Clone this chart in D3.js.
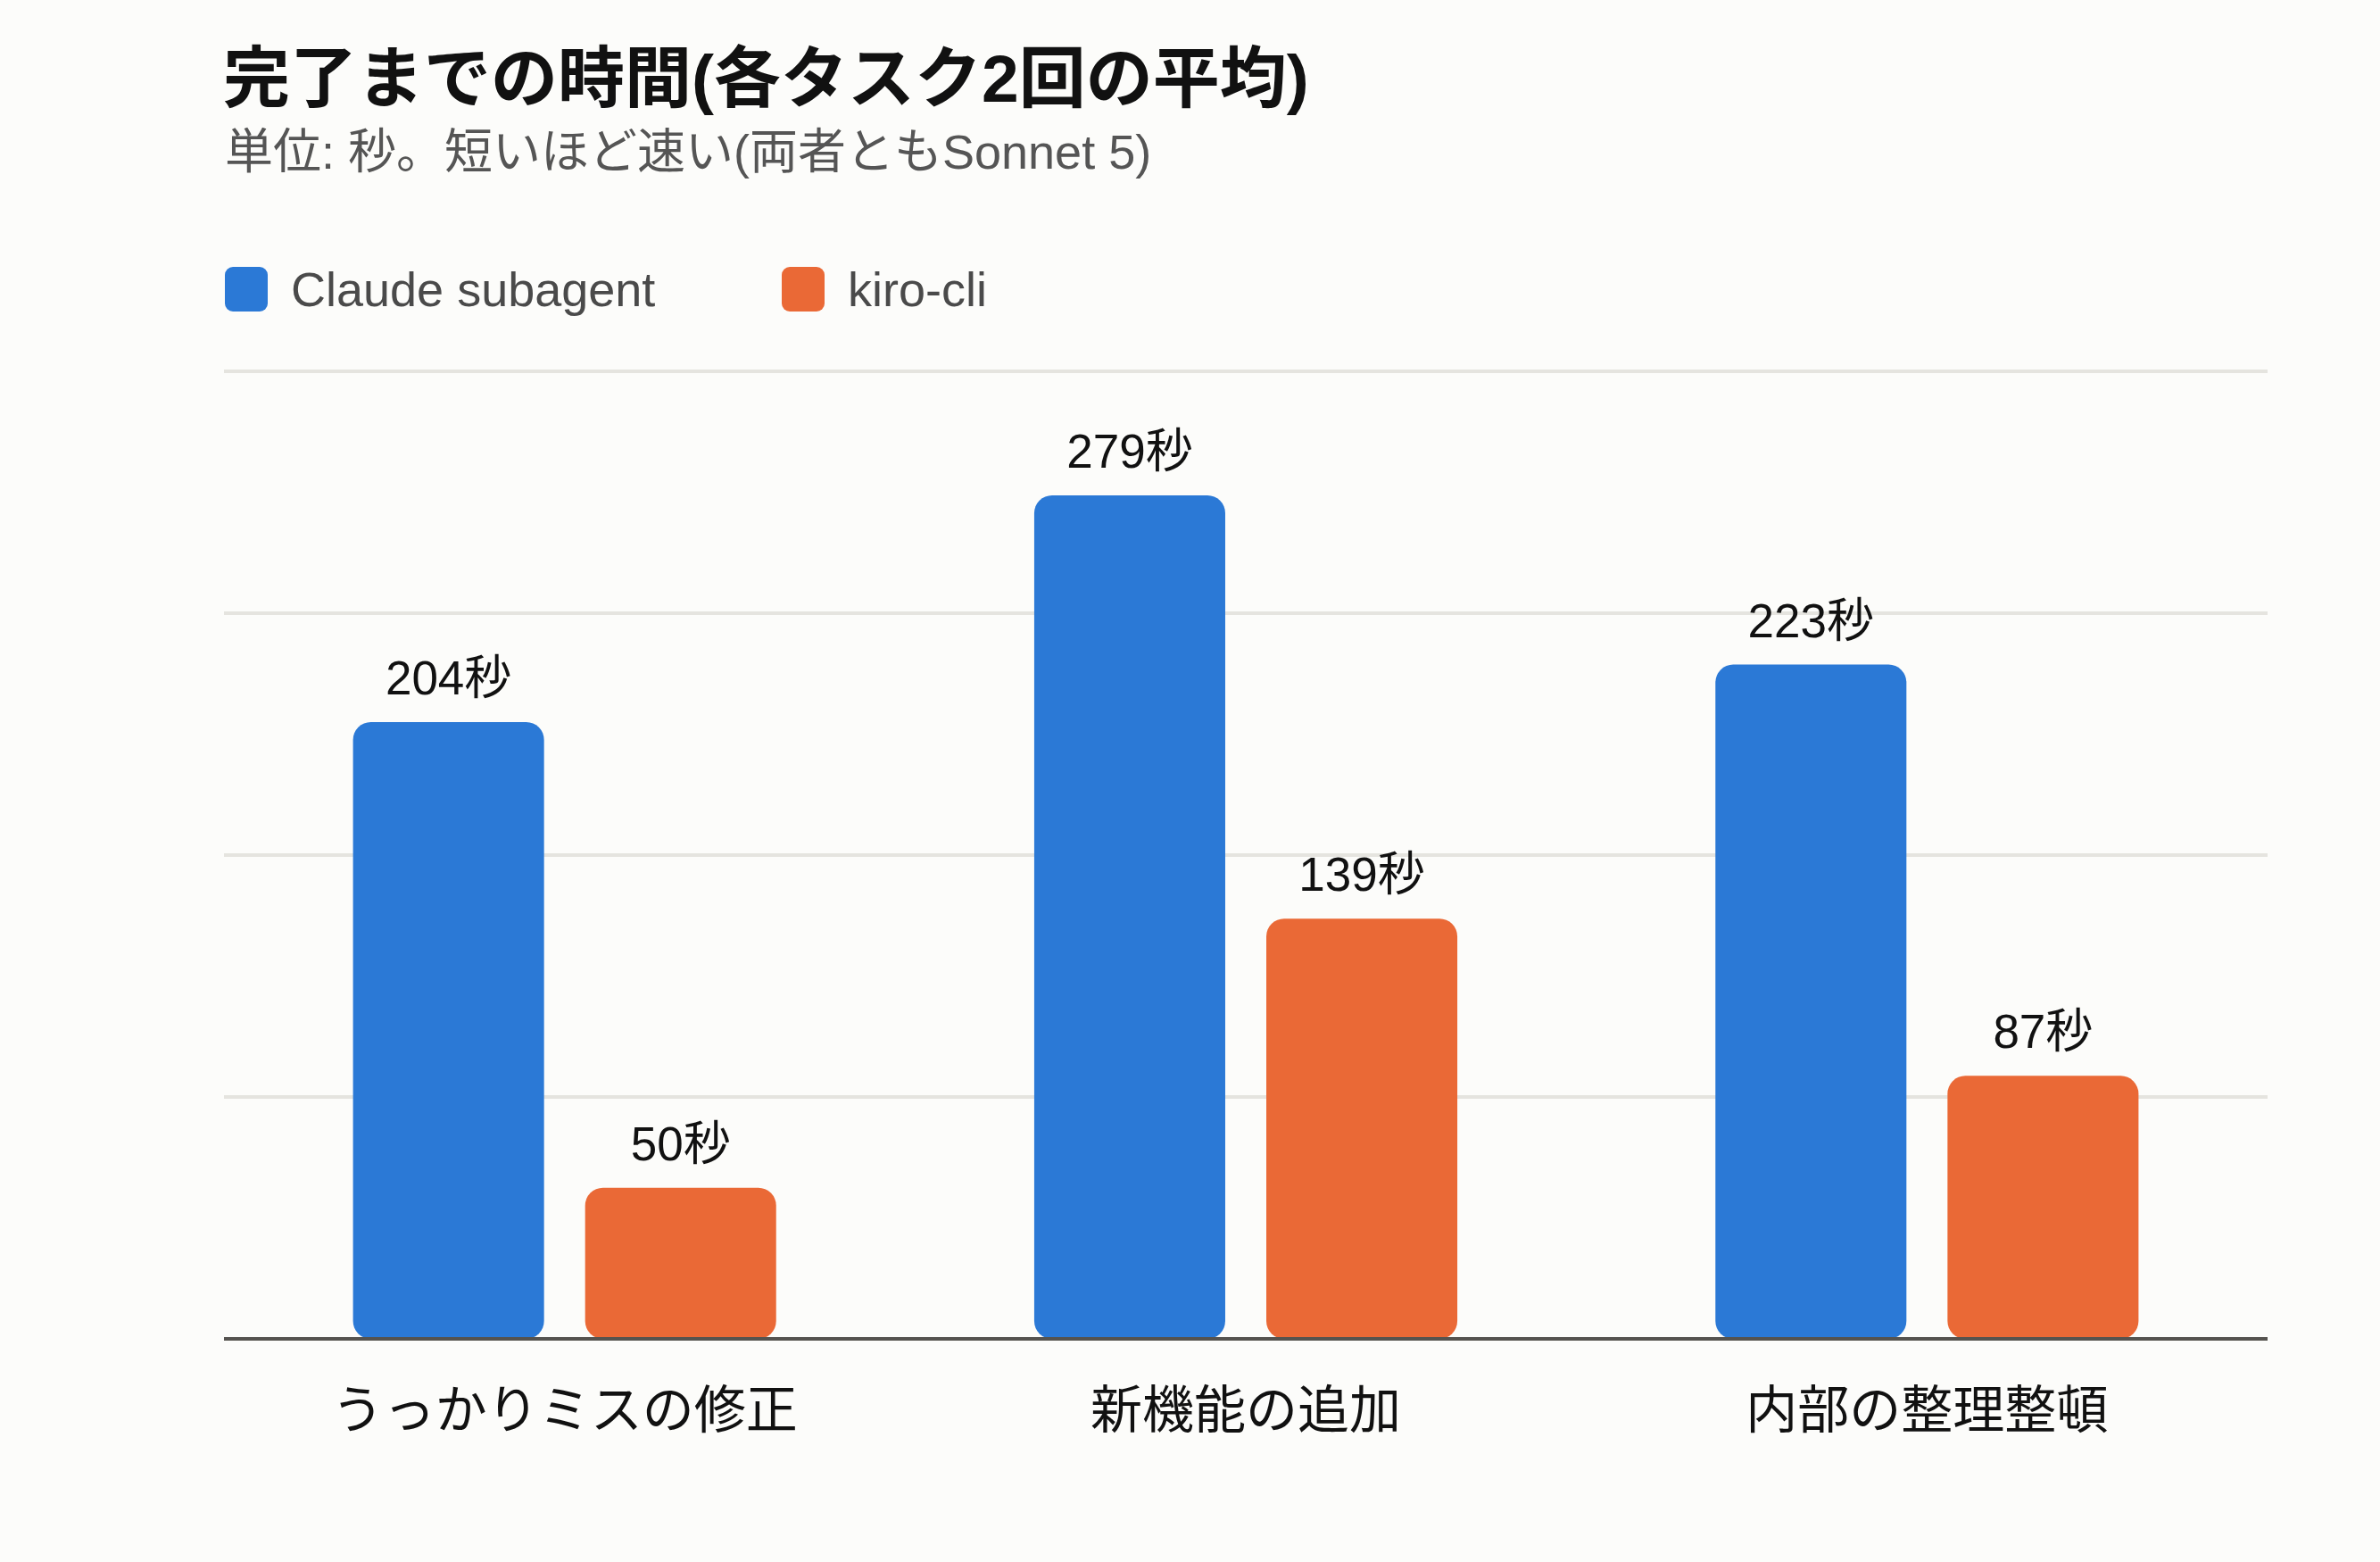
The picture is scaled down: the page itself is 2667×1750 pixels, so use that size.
<!DOCTYPE html>
<html>
<head>
<meta charset="utf-8">
<script src="https://cdn.jsdelivr.net/npm/d3@7"></script>
<style>
  html, body { margin: 0; padding: 0; background: #fcfcfa; }
  svg { display: block; font-family: "Liberation Sans", "Noto Sans CJK JP", sans-serif; }
</style>
</head>
<body>
<div id="chart"></div>
<script>
(() => {
  const width = 2667, height = 1750;

  // データ
  const categories = ["うっかりミスの修正", "新機能の追加", "内部の整理整頓"];
  const seriesNames = ["Claude subagent", "kiro-cli"];
  const claudeValues = [204, 279, 223];
  const kiroValues = [50, 139, 87];
  const yTicks = [0, 80, 160, 240, 320];

  const colors = { "Claude subagent": "#2b79d6", "kiro-cli": "#ea6936" };

  const data = categories.map((c, i) => ({
    category: c,
    values: [
      { series: seriesNames[0], value: claudeValues[i] },
      { series: seriesNames[1], value: kiroValues[i] }
    ]
  }));

  const margin = { left: 251, right: 126, top: 416, bottom: 250 };
  const innerW = width - margin.left - margin.right;
  const innerH = height - margin.top - margin.bottom;

  const svg = d3.select("#chart").append("svg")
    .attr("width", width)
    .attr("height", height);

  svg.append("rect").attr("width", width).attr("height", height).attr("fill", "#fcfcfa");

  // タイトル
  svg.append("text")
    .attr("x", 250).attr("y", 114)
    .attr("font-size", 75).attr("font-weight", "bold")
    .attr("fill", "#111")
    .text("完了までの時間(各タスク2回の平均)");

  svg.append("text")
    .attr("x", 252).attr("y", 189)
    .attr("font-size", 54)
    .attr("fill", "#555")
    .text("単位: 秒。短いほど速い(両者ともSonnet 5)");

  // 凡例
  const legendX = [252, 876];
  const legend = svg.selectAll("g.legend")
    .data(seriesNames)
    .join("g")
    .attr("class", "legend")
    .attr("transform", (d, i) => `translate(${legendX[i]},299)`);

  legend.append("rect")
    .attr("width", 48).attr("height", 50)
    .attr("rx", 9)
    .attr("fill", d => colors[d]);

  legend.append("text")
    .attr("x", 74).attr("y", 44)
    .attr("font-size", 54)
    .attr("fill", "#4a4a4a")
    .text(d => d);

  const g = svg.append("g").attr("transform", `translate(${margin.left},${margin.top})`);

  const x0 = d3.scaleBand().domain(categories).range([0, innerW]).padding(0);
  const x1 = d3.scaleBand().domain(seriesNames).range([0, x0.bandwidth()])
    .paddingInner(0.177).paddingOuter(0.556);
  const y = d3.scaleLinear().domain([0, 320]).range([innerH, 0]);

  // グリッド線
  g.selectAll("line.grid")
    .data(yTicks.filter(t => t > 0))
    .join("line")
    .attr("class", "grid")
    .attr("x1", 0).attr("x2", innerW)
    .attr("y1", d => y(d)).attr("y2", d => y(d))
    .attr("stroke", "#e5e4df")
    .attr("stroke-width", 4);

  const groups = g.selectAll("g.group")
    .data(data)
    .join("g")
    .attr("class", "group")
    .attr("transform", d => `translate(${x0(d.category)},0)`);

  groups.selectAll("rect")
    .data(d => d.values)
    .join("rect")
    .attr("x", d => x1(d.series))
    .attr("y", d => y(d.value))
    .attr("width", x1.bandwidth())
    .attr("height", d => innerH - y(d.value))
    .attr("rx", 20)
    .attr("fill", d => colors[d.series]);

  groups.selectAll("text.val")
    .data(d => d.values)
    .join("text")
    .attr("class", "val")
    .attr("x", d => x1(d.series) + x1.bandwidth() / 2)
    .attr("y", d => y(d.value) - 31)
    .attr("text-anchor", "middle")
    .attr("font-size", 53)
    .attr("fill", "#111")
    .text(d => `${d.value}秒`);

  // 軸線
  g.append("line")
    .attr("x1", 0).attr("x2", innerW)
    .attr("y1", innerH).attr("y2", innerH)
    .attr("stroke", "#55534f")
    .attr("stroke-width", 4);

  // カテゴリラベル
  g.selectAll("text.cat")
    .data(categories)
    .join("text")
    .attr("class", "cat")
    .attr("x", d => x0(d) + x0.bandwidth() / 2)
    .attr("y", innerH + 100)
    .attr("text-anchor", "middle")
    .attr("font-size", 58)
    .attr("fill", "#111")
    .text(d => d);
})();
</script>
</body>
</html>
